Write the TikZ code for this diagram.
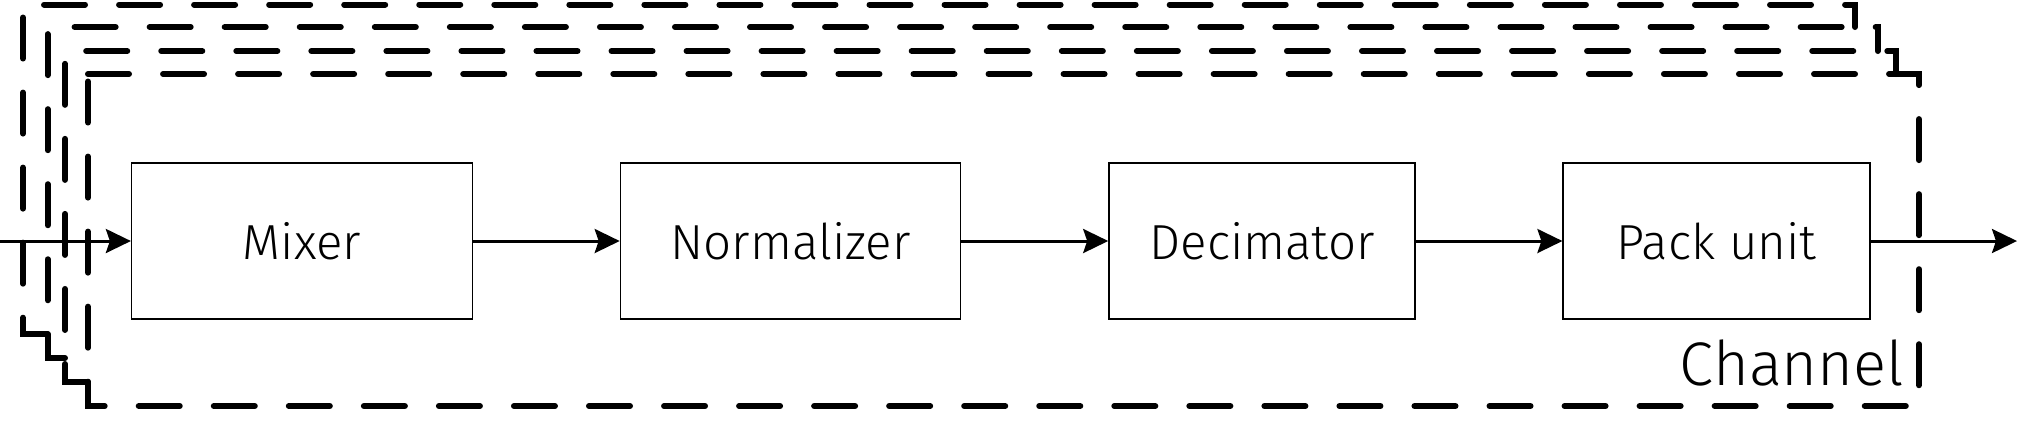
\documentclass[tikz,border=0pt]{standalone}
\usepackage{fontspec}
\setmainfont{Fira Sans Light}
\usetikzlibrary{arrows.meta}

\begin{document}
\begin{tikzpicture}[
  x=0.01cm, y=-0.01cm,
  frm/.style={line width=1.7pt, line cap=round, dash pattern=on 4.1mm off 3.4mm},
  blk/.style={draw, line width=0.4pt, minimum height=1.56cm, font=\fontsize{14}{17}\selectfont},
  flow/.style={line width=0.85pt, -{Stealth[length=2.5mm, width=2.4mm, inset=0.4mm]}},
]
\useasboundingbox (0,0) rectangle (2019,438);

% stacked channels behind
\draw [frm] (47.7,334) -- (23,334) -- (23,4.5) -- (1855,4.5) -- (1855,27);
\draw [frm] (65,358) -- (47.7,358) -- (47.7,27) -- (1877.7,27) -- (1877.7,51);
\draw [frm] (88,382) -- (65,382) -- (65,51) -- (1895.7,51) -- (1895.7,74);

% front channel
\draw [frm] (88,74) -- (1919,74) -- (1919,406) -- (88,406) -- cycle;
\node [anchor=base east, inner sep=0pt, font=\fontsize{17.5}{21}\selectfont] (chn) at (1905,385) {Channel};

\node [blk, minimum width=3.406cm] (mix) at (302,241) {Mixer};
\node [blk, minimum width=3.40cm] (nrm) at (790.5,241) {Normalizer};
\node [blk, minimum width=3.06cm] (dec) at (1262,241) {Decimator};
\node [blk, minimum width=3.066cm] (pck) at (1716.5,241) {Pack unit};

\coordinate (in) at (0,241);
\coordinate (out) at (2017,241);

\draw [flow] (in) -- (mix);
\draw [flow] (mix) -- (nrm);
\draw [flow] (nrm) -- (dec);
\draw [flow] (dec) -- (pck);
\draw [flow] (pck) -- (out);

\end{tikzpicture}
\end{document}
